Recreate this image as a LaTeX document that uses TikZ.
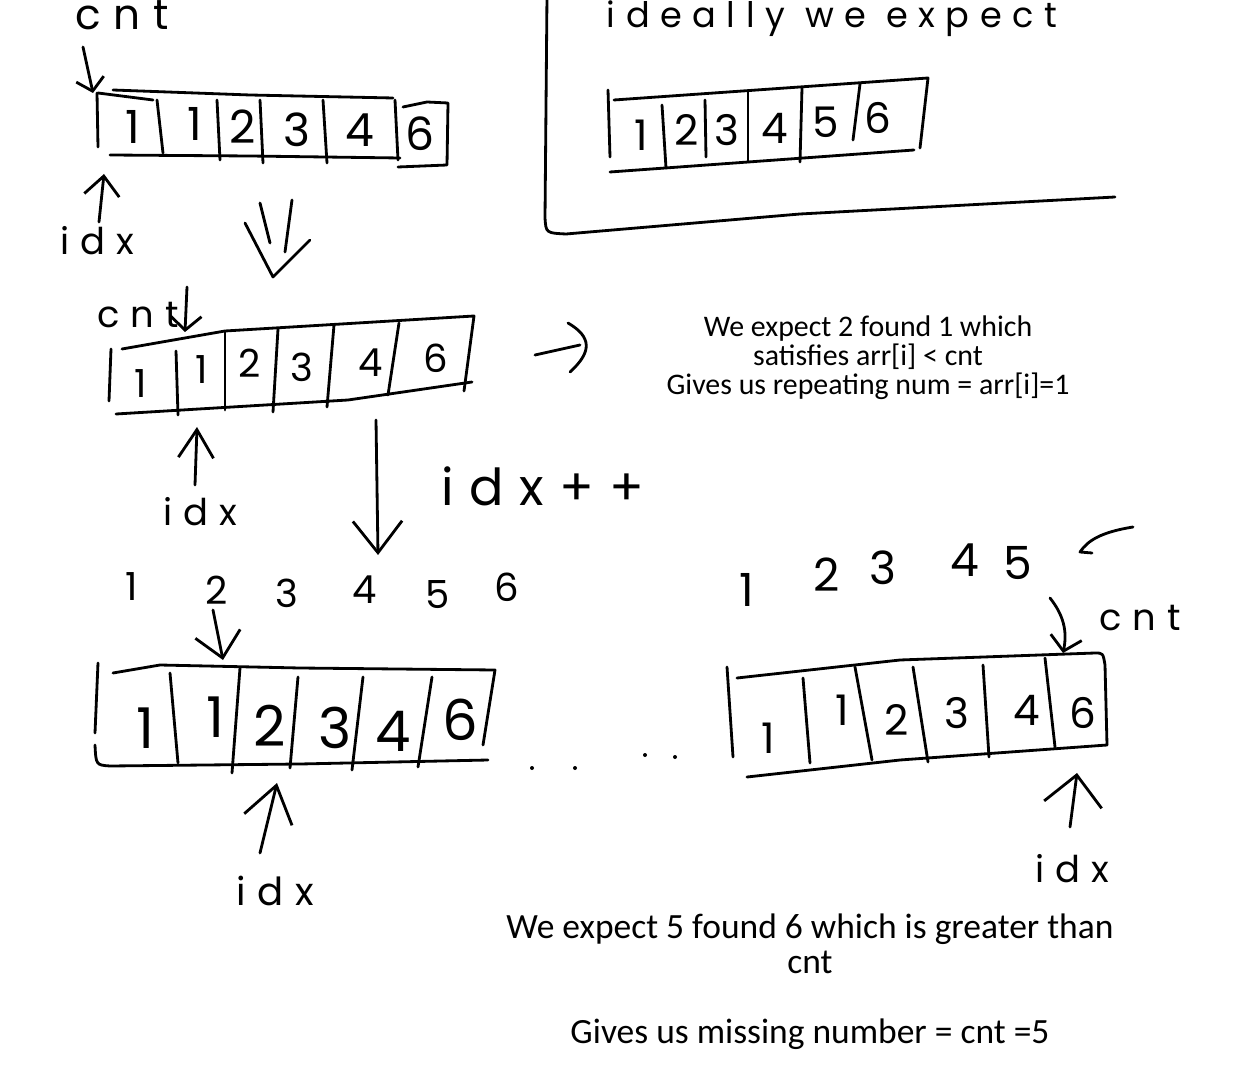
\documentclass[tikz,border=0pt]{standalone}
\usepackage{fontspec}
\setmainfont{Carlito}
\newfontfamily\hand{Poppins}[LetterSpace=30]
\usetikzlibrary{arrows.meta}
\begin{document}
\begin{tikzpicture}[x=0.02cm,y=-0.02cm,line width=1.6pt,line cap=round,line join=round,
  hw/.style={font=\hand\fontsize{#1}{#1}\selectfont,inner sep=0pt,anchor=base},
  dig/.style={font=\hand\fontsize{#1}{#1}\selectfont,inner sep=0pt},
  typedA/.style={font=\fontsize{17pt}{16.6pt}\selectfont,align=center,inner sep=0pt},
  typedB/.style={font=\fontsize{20.2pt}{20pt}\selectfont,align=center,inner sep=0pt},
  tip/.style 2 args={-{Straight Barb[length=#1,width=#2]}},
  dot/.style={fill=black,draw=none}]
\useasboundingbox (0,0) rectangle (1250,1087);

% ===== array 1 =====
\draw (97,93) -- (98,147);
\draw (98,93) -- (153,100);
\draw (113,90) -- (250,95) -- (393,98);
\draw (110,155) -- (250,156) -- (400,158);
\draw (157,100) -- (163,153);
\draw (217,100) -- (220,160);
\draw (260,100) -- (263,163);
\draw (323,100) -- (327,163);
\draw (395,100) -- (398,160);
\draw (403,107) -- (427,102) -- (448,103) -- (447,165) -- (398,167);
\node[dig=26] (a1d1) at (133,127) {1};
\node[dig=26] (a1d2) at (195,124) {1};
\node[dig=26] (a1d3) at (243,127) {2};
\node[dig=26] (a1d4) at (297,130) {3};
\node[dig=26] (a1d5) at (360,130) {4};
\node[dig=26] (a1d6) at (420,134) {6};
\node[hw=24] (cnt1) at (122,30) {cnt};
\coordinate (cnt1s) at (83,47);
\coordinate (a1top) at (93,93);
\draw[tip={7pt}{16pt}] (cnt1s) -- (a1top);
\node[hw=21] (idx1) at (97,255) {idx};
\coordinate (idx1s) at (99,222);
\coordinate (a1bot) at (104,174);
\draw[tip={11pt}{20pt}] (idx1s) -- (a1bot);

% double down arrow
\draw (260,203) -- (270,243);
\draw (292,200) -- (285,252);
\draw (245,223) -- (273,277) -- (310,240);

% ===== ideal box =====
\draw (547,-5) -- (545,218) .. controls (546,233) .. (566,234) -- (800,214) -- (1115,197);
\node[hw=20] (ideal) at (832,28) {ideally we expect};
\draw (608,90) -- (610,157);
\draw (614,100) -- (928,78) -- (920,148);
\draw (610,172) -- (914,150);
\draw (662,105) -- (666,168);
\draw (705,100) -- (706,157);
\draw (748,92) -- (748,162);
\draw (802,88) -- (800,162);
\draw (860,84) -- (853,140);
\node[dig=24] (b1) at (641,135) {1};
\node[dig=24] (b2) at (687,130) {2};
\node[dig=24] (b3) at (727,130) {3};
\node[dig=24] (b4) at (775,128) {4};
\node[dig=24] (b5) at (826,122) {5};
\node[dig=24] (b6) at (878,118) {6};

% ===== array 2 =====
\draw (111,349) -- (109,401);
\draw (122,349) -- (225,331) -- (474,316) -- (464,391);
\draw (116,414) -- (348,400) -- (472,382);
\draw (176,351) -- (178,415);
\draw (225,332) -- (225,410);
\draw (278,329) -- (273,412);
\draw (334,325) -- (327,407);
\draw (399,323) -- (388,395);
\node[dig=22] (a2d1) at (141,384) {1};
\node[dig=22] (a2d2) at (202,370) {1};
\node[dig=22] (a2d3) at (250,363) {2};
\node[dig=22] (a2d4) at (302,367) {3};
\node[dig=22] (a2d5) at (371,363) {4};
\node[dig=22] (a2d6) at (436,358) {6};
\node[hw=21] (cnt2) at (138,328) {cnt};
\coordinate (cnt2s) at (187,287);
\coordinate (a2top) at (185,332);
\draw[tip={8pt}{18pt}] (cnt2s) -- (a2top);
\coordinate (a2r) at (535,355);
\coordinate (a2rh) at (580,345);
\draw (a2r) -- (a2rh);
\draw (568,323) .. controls (592,337) and (592,352) .. (570,372);
\node[typedA] (note1) at (868,358) {We expect 2 found 1 which\\satisfies arr[i] < cnt\\Gives us repeating num = arr[i]=1};
\node[hw=21] (idx2) at (200,525) {idx};
\coordinate (idx2s) at (195,485);
\coordinate (a2bot) at (197,427);
\draw[tip={16pt}{20pt}] (idx2s) -- (a2bot);
\coordinate (a2down) at (376,420);
\coordinate (a3up) at (378,555);
\draw[tip={18pt}{28pt}] (a2down) -- (a3up);
\node[hw=29] (idxpp) at (543,505) {idx++};

% ===== array 3 =====
\node[dig=22] (r1) at (132,587) {1};
\node[dig=22] (r2) at (217,590) {2};
\node[dig=22] (r3) at (287,593) {3};
\node[dig=22] (r4) at (365,590) {4};
\node[dig=22] (r5) at (438,595) {5};
\node[dig=22] (r6) at (507,587) {6};
\coordinate (r2s) at (213,610);
\coordinate (a3top) at (223,660);
\draw[tip={14pt}{26pt}] (r2s) -- (a3top);
\draw (98,663) -- (95,733);
\draw (95,745) .. controls (96,765) .. (110,766) -- (300,764) -- (488,760);
\draw (113,673) -- (160,665) -- (300,668) -- (495,670) -- (483,745);
\draw (170,673) -- (178,763);
\draw (240,668) -- (232,773);
\draw (298,677) -- (290,768);
\draw (363,677) -- (352,770);
\draw (432,677) -- (418,767);
\node[dig=32] (a3d1) at (145,728) {1};
\node[dig=32] (a3d2) at (215,717) {1};
\node[dig=32] (a3d3) at (270,726) {2};
\node[dig=32] (a3d4) at (335,728) {3};
\node[dig=32] (a3d5) at (393,731) {4};
\node[dig=32] (a3d6) at (460,720) {6};
\coordinate (idx3s) at (260,853);
\coordinate (a3bot) at (277,783);
\draw[tip={20pt}{28pt}] (idx3s) -- (a3bot);
\node[hw=22] (idx3) at (275,905) {idx};
\fill[dot] (532,768) circle (2);
\fill[dot] (575,768) circle (2);
\fill[dot] (645,755) circle (2);
\fill[dot] (675,757) circle (2);

% ===== array 4 =====
\node[dig=26] (q1) at (747,590) {1};
\node[dig=26] (q2) at (827,575) {2};
\node[dig=26] (q3) at (883,568) {3};
\node[dig=26] (q4) at (965,560) {4};
\node[dig=26] (q5) at (1018,563) {5};
\draw (1133,527) .. controls (1102,532) and (1088,540) .. (1080,552) -- (1092,553);
\draw (727,667) -- (733,757);
\draw (737,678) -- (900,660) -- (1095,653) .. controls (1103,653) .. (1105,665) -- (1107,745);
\draw (747,777) -- (900,760) -- (1107,745);
\draw (803,678) -- (810,763);
\draw (855,667) -- (872,760);
\draw (913,667) -- (928,762);
\draw (983,665) -- (989,757);
\draw (1045,658) -- (1055,747);
\node[dig=24] (a4d1) at (768,738) {1};
\node[dig=24] (a4d2) at (842,710) {1};
\node[dig=24] (a4d3) at (897,720) {2};
\node[dig=24] (a4d4) at (957,713) {3};
\node[dig=24] (a4d5) at (1027,710) {4};
\node[dig=24] (a4d6) at (1083,713) {6};
\node[hw=21] (cnt4) at (1140,630) {cnt};
\coordinate (cnt4s) at (1050,598);
\coordinate (a4top) at (1063,653);
\draw[tip={8pt}{18pt}] (cnt4s) to[bend left=25] (a4top);
\coordinate (idx4s) at (1070,827);
\coordinate (a4bot) at (1077,773);
\draw[tip={17pt}{33pt}] (idx4s) -- (a4bot);
\node[hw=21] (idx4) at (1072,882) {idx};

% ===== bottom note =====
\node[typedB] (note2) at (810,982) {We expect 5 found 6 which is greater than\\cnt\\[20pt]Gives us missing number = cnt =5};
\end{tikzpicture}
\end{document}
